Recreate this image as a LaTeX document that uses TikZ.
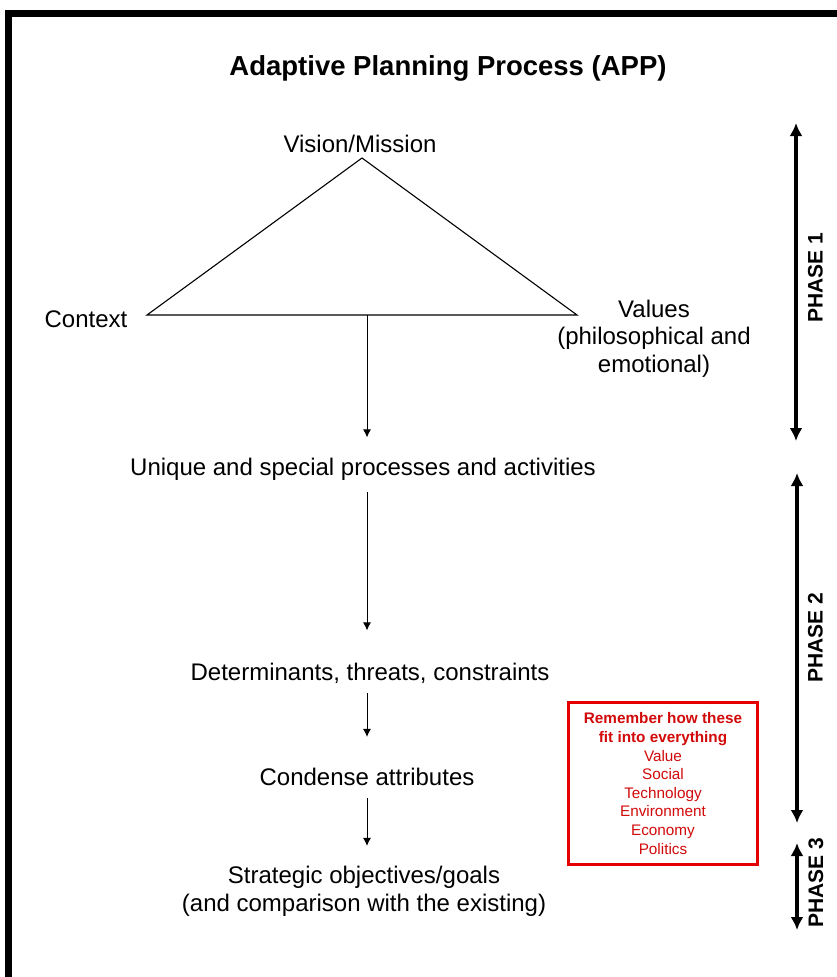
\documentclass[tikz,border=0pt]{standalone}
\usepackage{fontspec}
\setmainfont{Liberation Sans}
\usetikzlibrary{arrows.meta}
\definecolor{boxred}{RGB}{228,0,0}
\definecolor{txtred}{RGB}{210,10,10}
\tikzset{
 lbl/.style={inner sep=0pt, anchor=base, font=\fontsize{24}{27.5}\selectfont, align=center},
 flow/.style={line width=1pt, -{Latex[length=8pt,width=8pt]}},
 phasearrow/.style={line width=3.3pt, {Latex[length=13pt,width=13pt]}-{Latex[length=13pt,width=13pt]}},
 phaselbl/.style={rotate=90, font=\bfseries\fontsize{21}{21}\selectfont, inner sep=0pt},
 tri/.style={line width=1.1pt, line join=miter},
}
\begin{document}
\begin{tikzpicture}[x=1pt,y=-1pt]
\useasboundingbox (0,0) rectangle (836,977);
\fill[white] (0,0) rectangle (836,977);
\draw[line width=7pt] (8,990) -- (8,13.5) -- (850,13.5);
\node[lbl, font=\bfseries\fontsize{27.5}{30}\selectfont] (title) at (448,75) {Adaptive Planning Process (APP)};
\coordinate (apex) at (362,158);
\coordinate (lc) at (147,315);
\coordinate (rc) at (577,315);
\coordinate (basemid) at (367,315);
\draw[tri] (apex) -- (lc) -- (rc) -- cycle;
\node[lbl] (vision) at (360,152) {Vision/Mission};
\node[lbl] (context) at (86,327) {Context};
\node[lbl] (values) at (654,372) {Values\\(philosophical and\\emotional)};
\node[lbl] (unique) at (363,475) {Unique and special processes and activities};
\node[lbl] (determ) at (370,680) {Determinants, threats, constraints};
\node[lbl] (condense) at (367,785) {Condense attributes};
\node[lbl] (strategic) at (364,911) {Strategic objectives/goals\\(and comparison with the existing)};
\draw[flow, shorten >=20pt] (basemid) -- (basemid |- unique.north);
\draw[flow, shorten <=12pt, shorten >=32pt] (basemid |- unique.south) -- (basemid |- determ.north);
\draw[flow, shorten <=9.5pt, shorten >=30.5pt] (basemid |- determ.south) -- (basemid |- condense.north);
\draw[flow, shorten <=13pt, shorten >=20pt] (basemid |- condense.south) -- (basemid |- strategic.north);
\node[draw=boxred, line width=3pt, minimum width=189pt, minimum height=162pt, inner sep=0pt, text=txtred, align=center, font=\fontsize{15.3}{18.6}\selectfont] (remember) at (663,783.5) {\textbf{Remember how these}\\\textbf{fit into everything}\\Value\\Social\\Technology\\Environment\\Economy\\Politics};
\coordinate (p1t) at (796,123);
\coordinate (p1b) at (796,441);
\coordinate (p2t) at (797,473);
\coordinate (p2b) at (797,823);
\coordinate (p3t) at (797,843);
\coordinate (p3b) at (797,930);
\draw[phasearrow] (p1t) -- (p1b);
\draw[phasearrow] (p2t) -- (p2b);
\draw[phasearrow] (p3t) -- (p3b);
\node[phaselbl] (ph1) at (815.5,278) {PHASE 1};
\node[phaselbl] (ph2) at (815.5,638) {PHASE 2};
\node[phaselbl] (ph3) at (816,883) {PHASE 3};
\end{tikzpicture}
\end{document}
